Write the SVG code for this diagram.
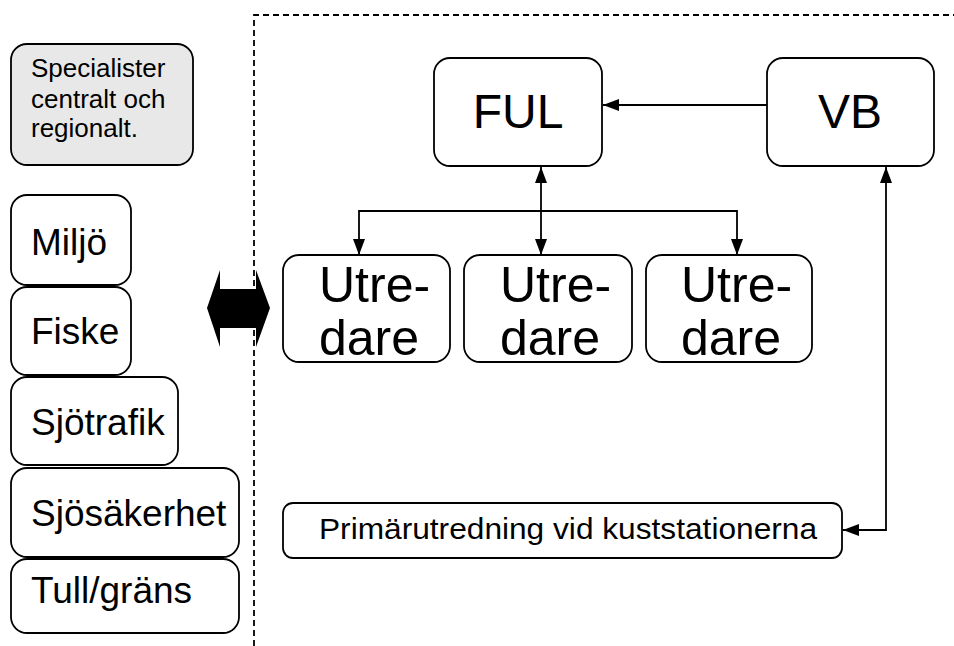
<svg xmlns="http://www.w3.org/2000/svg" width="954" height="646" viewBox="0 0 954 646">
  <defs>
    <style>
      .box { fill: #ffffff; stroke: #000000; stroke-width: 1.8; }
      .grey { fill: #e8e8e8; }
      .lbl { font-family: "Liberation Sans", Arial, sans-serif; fill: #000000; }
      .wire { fill: none; stroke: #000000; stroke-width: 1.8; }
      .frame { fill: none; stroke: #000000; stroke-width: 1.8; stroke-dasharray: 6 4; }
    </style>
    <marker id="tip" viewBox="0 0 16 12" refX="16" refY="6" markerWidth="16" markerHeight="12" markerUnits="userSpaceOnUse" orient="auto-start-reverse">
      <path d="M0,0 L16,6 L0,12 Z" fill="#000000"/>
    </marker>
  </defs>

  <rect width="954" height="646" fill="#ffffff"/>

  <!-- dashed boundary of the unit -->
  <path class="frame" d="M254,646 V15 H954"/>

  <!-- left column: specialist areas -->
  <g id="specialister">
    <rect class="box grey" x="11" y="44" width="182" height="121" rx="16"/>
    <text class="lbl" font-size="26" x="31" y="77">Specialister</text>
    <text class="lbl" font-size="26" x="31" y="108">centralt och</text>
    <text class="lbl" font-size="26" x="31" y="137">regionalt.</text>
  </g>
  <g id="miljo">
    <rect class="box" x="11" y="195" width="120" height="90" rx="16"/>
    <text class="lbl" font-size="37" x="31" y="255">Miljö</text>
  </g>
  <g id="fiske">
    <rect class="box" x="11" y="287" width="120" height="88" rx="16"/>
    <text class="lbl" font-size="37" x="31" y="344">Fiske</text>
  </g>
  <g id="sjotrafik">
    <rect class="box" x="11" y="377" width="167" height="88" rx="16"/>
    <text class="lbl" font-size="37" x="31" y="435">Sjötrafik</text>
  </g>
  <g id="sjosakerhet">
    <rect class="box" x="11" y="468" width="228" height="89" rx="16"/>
    <text class="lbl" font-size="37" x="31" y="526">Sjösäkerhet</text>
  </g>
  <g id="tull">
    <rect class="box" x="11" y="559" width="228" height="74" rx="16"/>
    <text class="lbl" font-size="37" x="31" y="603">Tull/gräns</text>
  </g>

  <!-- exchange across the boundary -->
  <g id="utbyte">
    <polygon points="207,308 220,270 220,289 256,289 256,270 270,308 256,347 256,328 220,328 220,347" fill="#000000"/>
  </g>

  <!-- management -->
  <g id="ful">
    <rect class="box" x="434" y="58" width="168" height="108" rx="16"/>
    <text class="lbl" font-size="48" x="518" y="128" text-anchor="middle">FUL</text>
  </g>
  <g id="vb">
    <rect class="box" x="767" y="58" width="167" height="108" rx="16"/>
    <text class="lbl" font-size="48" x="850" y="128" text-anchor="middle">VB</text>
  </g>

  <!-- investigators -->
  <g id="utredare1">
    <rect class="box" x="283" y="255" width="167" height="107" rx="16"/>
    <text class="lbl" font-size="50" x="319" y="302">Utre-</text>
    <text class="lbl" font-size="50" x="319" y="355">dare</text>
  </g>
  <g id="utredare2">
    <rect class="box" x="464" y="255" width="168" height="107" rx="16"/>
    <text class="lbl" font-size="50" x="500" y="302">Utre-</text>
    <text class="lbl" font-size="50" x="500" y="355">dare</text>
  </g>
  <g id="utredare3">
    <rect class="box" x="646" y="255" width="166" height="107" rx="16"/>
    <text class="lbl" font-size="50" x="681" y="302">Utre-</text>
    <text class="lbl" font-size="50" x="681" y="355">dare</text>
  </g>

  <!-- coast stations -->
  <g id="primar">
    <rect class="box" x="283" y="503" width="559" height="55" rx="10"/>
    <text class="lbl" font-size="29" x="319" y="539" textLength="498" lengthAdjust="spacingAndGlyphs">Primärutredning vid kuststationerna</text>
  </g>

  <!-- connectors -->
  <g id="connectors">
    <path class="wire" d="M767,105 H603" marker-end="url(#tip)"/>
    <path class="wire" d="M541,167 V255" marker-start="url(#tip)" marker-end="url(#tip)"/>
    <path class="wire" d="M359,255 V211 H737 V255" marker-start="url(#tip)" marker-end="url(#tip)"/>
    <path class="wire" d="M886,167 V530 H843" marker-start="url(#tip)" marker-end="url(#tip)"/>
  </g>
</svg>
